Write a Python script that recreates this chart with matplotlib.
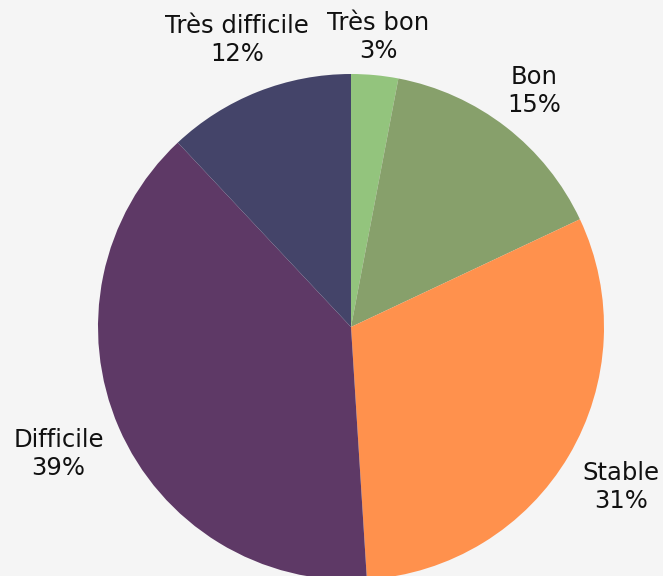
import numpy as np
import matplotlib.pyplot as plt

labels = ['Très bon', 'Bon', 'Stable', 'Difficile', 'Très difficile']
values = [3, 15, 31, 39, 12]
colors = ['#93c47d', '#87a06b', '#ff914d', '#5e3966', '#444469']
label_dist = [1.15, 1.18, 1.24, 1.26, 1.22]

plt.rcParams['font.family'] = ['DejaVu Sans']

fig = plt.figure(figsize=(6.63, 5.76), dpi=100, facecolor='#f5f5f5')
ax = fig.add_axes([0, 0, 1, 1])
ax.set_facecolor('#f5f5f5')

cx, cy, r = 351, 576 - 327, 253
wedges, _ = ax.pie(values, colors=colors, startangle=90, counterclock=False,
                   center=(cx, cy), radius=r, frame=True)
ax.set_xlim(0, 663)
ax.set_ylim(0, 576)
ax.set_aspect('equal')
ax.axis('off')

for w, lab, v, d in zip(wedges, labels, values, label_dist):
    ang = np.deg2rad((w.theta1 + w.theta2) / 2)
    x = cx + d * r * np.cos(ang)
    y = cy + d * r * np.sin(ang)
    ax.text(x, y, f'{lab}\n{v}%', ha='center', va='center', fontsize=17.5,
            color='#111111', linespacing=1.2)

fig.savefig('out.png', dpi=100, facecolor=fig.get_facecolor())
